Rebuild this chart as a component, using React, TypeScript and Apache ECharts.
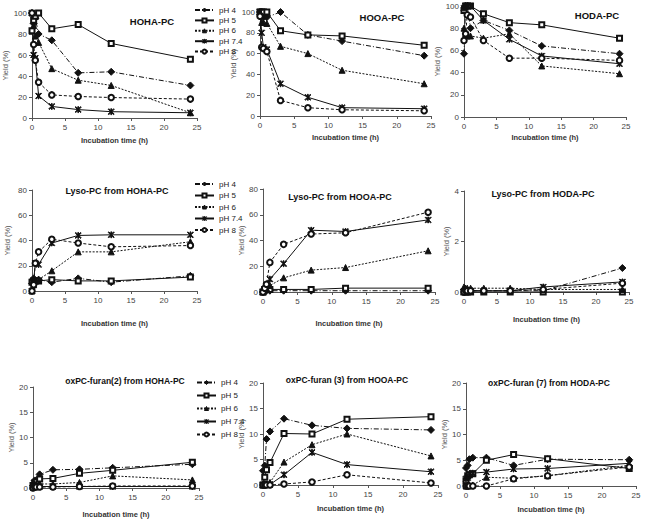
import React, { useEffect, useRef } from 'react';
import * as echarts from 'echarts';

// Incubation times (h)
const times = [0, 0.25, 0.5, 1, 3, 7, 12, 24];
const seriesNames = ['pH 4', 'pH 5', 'pH 6', 'pH 7.4', 'pH 8'];

// Yield (%) per pH (rows: pH 4, pH 5, pH 6, pH 7.4, pH 8)
const hohaPC = [
  [100, 90, 95, 80, 74, 43, 44, 31],
  [83, 93, 97, 100, 85, 89, 71, 56],
  [100, 88, 78, 72, 47, 36, 31, 5],
  [100, 60, 57, 21, 11, 8, 6, 5],
  [100, 70, 55, 34, 22, 20.5, 19.5, 18],
];
const hooaPC = [
  [100, 100, 95, 95, 100, 78, 72, 58],
  [100, 100, 100, 100, 82, 78, 77, 68],
  [100, 90, 90, 89, 67, 60, 44, 31],
  [100, 80, 66, 64, 31, 18, 8, 7],
  [96, 66, 65, 62, 15, 8, 6, 5],
];
const hodaPC = [
  [57, 100, 100, 80, 87, 78, 64, 57],
  [96, 100, 100, 100, 93, 85, 83, 71],
  [80, 75, 73, 73, 71, 75, 46, 39],
  [98, 100, 100, 100, 87, 70, 55, 48],
  [69, 75, 92, 90, 69, 53, 53, 51],
];
const lysoFromHOHA = [
  [6, 10, 8, 9, 7, 10, 7, 12],
  [7, 8, 8, 8, 9, 8, 8, 11],
  [0, 5, 8, 9, 16, 31, 31, 39],
  [0, 8, 22, 21, 38, 44, 44.5, 44.5],
  [0, 5, 22, 31, 41, 38, 35, 36],
];
const lysoFromHOOA = [
  [0, 1, 1, 1, 1, 1, 1, 1],
  [0, 2, 2, 2, 2, 2, 3, 3],
  [0, 2, 3, 5, 11, 17, 19, 32],
  [0, 2, 5, 10, 22, 48, 47, 56],
  [0, 3, 6, 23, 37, 45, 46, 62],
];
const lysoFromHODA = [
  [0.1, 0.05, 0.05, 0.05, 0.05, 0.05, 0.05, 0.95],
  [0, 0, 0, 0, 0, 0, 0, 0],
  [0.2, 0.15, 0.15, 0.15, 0.15, 0.15, 0.1, 0.1],
  [0, 0.05, 0.05, 0.05, 0.05, 0.05, 0.2, 0.4],
  [0, 0.05, 0.05, 0.05, 0.05, 0.05, 0.1, 0.35],
];
const furan2FromHOHA = [
  [0.5, 1.5, 1.5, 2.7, 3.6, 3.7, 4, 4.7],
  [0.5, 1, 1.2, 1.8, 1.9, 2.9, 3.5, 5.1],
  [0.2, 0.8, 0.8, 0.8, 0.8, 1.1, 2.4, 1.6],
  [0.1, 0.3, 0.3, 0.3, 0.3, 0.3, 0.3, 0.3],
  [0, 0.2, 0.2, 0.2, 0.2, 0.3, 0.4, 0.4],
];
const furan3FromHOOA = [
  [2.8, 3.8, 9, 10.5, 13, 11.7, 11.1, 10.8],
  [0, 1.5, 3, 4.4, 10.1, 10, 12.9, 13.4],
  [0, 0.2, 0.2, 0.5, 4.5, 7.9, 10, 5.7],
  [0, 0.1, 0.1, 0.1, 2, 6.4, 4, 2.6],
  [0, 0, 0, 0, 0.2, 0.6, 2, 0.4],
];
const furan7FromHODA = [
  [3.5, 4, 5.2, 5.5, 5.5, 4, 5.2, 5.1],
  [1, 2, 2.2, 2.4, 5, 6.1, 5.3, 3.4],
  [0, 0.1, 0.1, 0.2, 1.7, 1.5, 2, 4],
  [1.4, 1.6, 2.4, 2.5, 2.7, 3.3, 3.4, 4.4],
  [0, 0, 0, 0, 0, 1.4, 2, 3.7],
];

const panelTitles = [
  'HOHA-PC', 'HOOA-PC', 'HODA-PC',
  'Lyso-PC from HOHA-PC', 'Lyso-PC from HOOA-PC', 'Lyso-PC from HODA-PC',
  'oxPC-furan(2) from HOHA-PC', 'oxPC-furan (3) from HOOA-PC', 'oxPC-furan (7) from HODA-PC',
];
const panelValues = [hohaPC, hooaPC, hodaPC, lysoFromHOHA, lysoFromHOOA, lysoFromHODA, furan2FromHOHA, furan3FromHOOA, furan7FromHODA];
const yMaxes = [100, 100, 100, 80, 80, 4, 20, 20, 20];
const yIntervals = [20, 20, 20, 20, 20, 2, 5, 5, 5];
const xAxisName = 'Incubation time (h)';
const yAxisName = 'Yield (%)';

// Layout (pixels)
const grids = [
  { left: 32, top: 13, width: 165, height: 105 },
  { left: 260, top: 12, width: 171, height: 104 },
  { left: 464, top: 6, width: 162, height: 111 },
  { left: 32, top: 190, width: 165, height: 101 },
  { left: 263, top: 189, width: 172, height: 103 },
  { left: 464, top: 191, width: 165, height: 101 },
  { left: 33, top: 387, width: 166, height: 101 },
  { left: 263, top: 383, width: 175, height: 102 },
  { left: 466, top: 383, width: 170, height: 103 },
];
const xNameGaps = [18, 17, 16, 28, 27, 23, 22, 19, 19];
const yNameGaps = [20, 1, 17, 21, 8, 12, 17, 14, 9];
const titlePos = [
  [152, 21], [382, 17], [597, 15],
  [117, 191], [340, 197], [543, 194],
  [125, 381], [347, 380], [549, 383],
];

const FONT = '"Liberation Sans", Arial, sans-serif';
const INK = '#111';
const STAR = 'path://M1,0 L5,4 L9,0 L10,1 L6,5 L10,9 L9,10 L5,6 L1,10 L0,9 L4,5 L0,1 Z M4.4,0 L5.6,0 L5.6,10 L4.4,10 Z';

const seriesStyles: any[] = [
  { symbol: 'diamond', symbolSize: 7, dash: [5, 2, 1, 2] },
  { symbol: 'emptyRect', symbolSize: 5, dash: 'solid' },
  { symbol: 'triangle', symbolSize: 6, dash: [2, 1.5] },
  { symbol: STAR, symbolSize: 6, dash: 'solid' },
  { symbol: 'emptyCircle', symbolSize: 5.5, dash: [3, 2] },
];

function buildOption() {
  const xAxis: any[] = [];
  const yAxis: any[] = [];
  const series: any[] = [];
  grids.forEach((g, pi) => {
    xAxis.push({
      gridIndex: pi, type: 'value', min: 0, max: 25, interval: 5,
      name: xAxisName, nameLocation: 'middle', nameGap: xNameGaps[pi],
      nameTextStyle: { fontSize: 7.5, fontWeight: 'bold', color: '#333', fontFamily: FONT },
      axisLine: { show: true, lineStyle: { color: '#555', width: 1 } },
      axisTick: { show: true, length: 3, lineStyle: { color: '#555' } },
      axisLabel: { fontSize: 8, color: '#444', margin: 5, fontFamily: FONT },
      splitLine: { show: false },
    });
    yAxis.push({
      gridIndex: pi, type: 'value', min: 0, max: yMaxes[pi], interval: yIntervals[pi],
      name: yAxisName, nameLocation: 'middle', nameGap: yNameGaps[pi], nameRotate: 90,
      nameTextStyle: { fontSize: 7.5, color: '#555', fontFamily: FONT },
      axisLine: { show: true, lineStyle: { color: '#555', width: 1 } },
      axisTick: { show: true, length: 3, lineStyle: { color: '#555' } },
      axisLabel: { fontSize: 8, color: '#444', margin: 5, fontFamily: FONT },
      splitLine: { show: false },
    });
    panelValues[pi].forEach((vals, si) => {
      const st = seriesStyles[si];
      series.push({
        type: 'line', name: seriesNames[si], xAxisIndex: pi, yAxisIndex: pi,
        data: times.map((t, i) => [t, vals[i]]),
        symbol: st.symbol, symbolSize: st.symbolSize, symbolKeepAspect: true,
        showAllSymbol: true,
        lineStyle: { color: INK, width: 1, type: st.dash },
        itemStyle: { color: INK, borderColor: INK, borderWidth: 1 },
        emphasis: { disabled: true },
        silent: true,
        clip: false,
      });
    });
  });

  const legendBase = {
    data: seriesNames, orient: 'vertical', itemWidth: 19, itemHeight: 5,
    padding: 0,
    selectedMode: false,
    itemStyle: { borderWidth: 1 },
    textStyle: { fontSize: 8, color: '#222', fontFamily: FONT, padding: [0, 0, 0, 0] },
  };
  const legend = [
    { ...legendBase, left: 194, top: 6, itemGap: 2.4 },
    { ...legendBase, left: 194, top: 180, itemGap: 3.5 },
    { ...legendBase, left: 196, top: 378.5, itemGap: 5 },
  ];

  const graphic = panelTitles.map((t, i) => ({
    type: 'text', x: titlePos[i][0], y: titlePos[i][1], silent: true,
    style: {
      text: t, fill: INK,
      font: 'bold ' + (i < 3 ? '9.5px ' : i < 6 ? '9px ' : '8.5px ') + FONT,
      align: 'center', verticalAlign: 'middle',
      textAlign: 'center', textVerticalAlign: 'middle',
    },
  }));

  return {
    animation: false,
    backgroundColor: '#fff',
    textStyle: { fontFamily: FONT },
    grid: grids.map((g) => ({ ...g, containLabel: false })),
    xAxis, yAxis, series, legend, graphic,
    tooltip: { show: false },
  };
}

export default function App() {
  const ref = useRef<HTMLDivElement>(null);
  useEffect(() => {
    if (!ref.current) return;
    const chart = echarts.init(ref.current, null, { renderer: 'svg' });
    chart.setOption(buildOption() as any);
    return () => chart.dispose();
  }, []);
  return (
    <div
      ref={ref}
      style={{ position: 'absolute', left: 0, top: 0, width: 645, height: 522, background: '#fff' }}
    />
  );
}
